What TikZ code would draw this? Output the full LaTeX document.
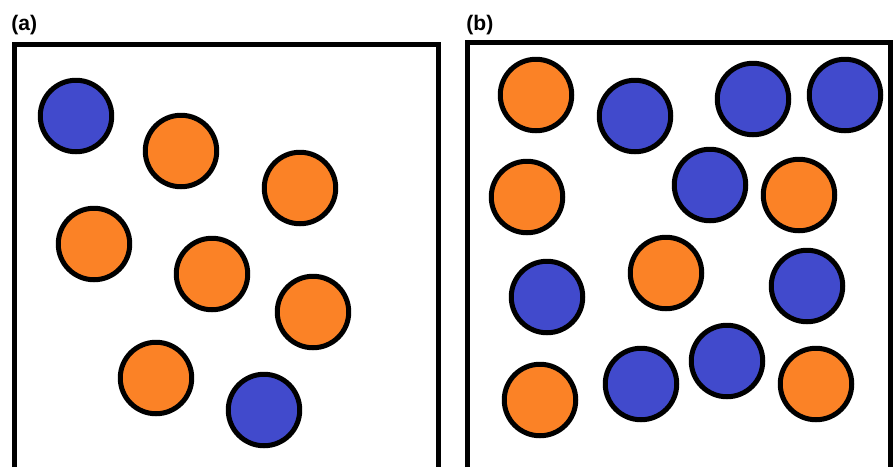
\documentclass[tikz,border=0pt]{standalone}
\usepackage{fontspec}
\setmainfont{Liberation Sans}
\definecolor{ballblue}{RGB}{65,74,204}
\definecolor{ballorange}{RGB}{251,130,38}
\begin{document}
\begin{tikzpicture}[x=0.02cm,y=-0.02cm,
        ball/.style={circle, draw=black, line width=0.1cm, minimum size=1.43cm, inner sep=0pt},
        frame/.style={draw=black, line width=0.1cm},
        panel/.style={font=\bfseries\fontsize{12}{14}\selectfont, anchor=base west, inner sep=0pt}]
        \useasboundingbox (0,0) rectangle (896,467);
        % panel (a)
        \node[panel] (labela) at (11,30.5) {(a)};
        \draw[frame] (14.2,467) -- (14.2,44.2) -- (438.3,44.2) -- (438.3,467);
        \foreach \x/\y/\c [count=\i] in {76/116/ballblue, 181/151/ballorange, 300/188/ballorange,
            94/244/ballorange, 212/274/ballorange, 313/312/ballorange,
            156/378/ballorange, 264/410/ballblue} {
            \node[ball, fill=\c] (a\i) at (\x,\y) {};
        }
        % panel (b)
        \node[panel] (labelb) at (466,30) {(b)};
        \draw[frame] (467.5,467) -- (467.5,42.5) -- (890,42.5) -- (890,467);
        \foreach \x/\y/\c [count=\i] in {536/95/ballorange, 635/116/ballblue, 753/99/ballblue,
            845/95/ballblue, 527/197/ballorange, 710/185/ballblue, 799/195/ballorange,
            547/297/ballblue, 666/273/ballorange, 807/286/ballblue,
            540/400/ballorange, 641/384/ballblue, 727/361/ballblue, 816/384/ballorange} {
            \node[ball, fill=\c] (b\i) at (\x,\y) {};
        }
\end{tikzpicture}
\end{document}
